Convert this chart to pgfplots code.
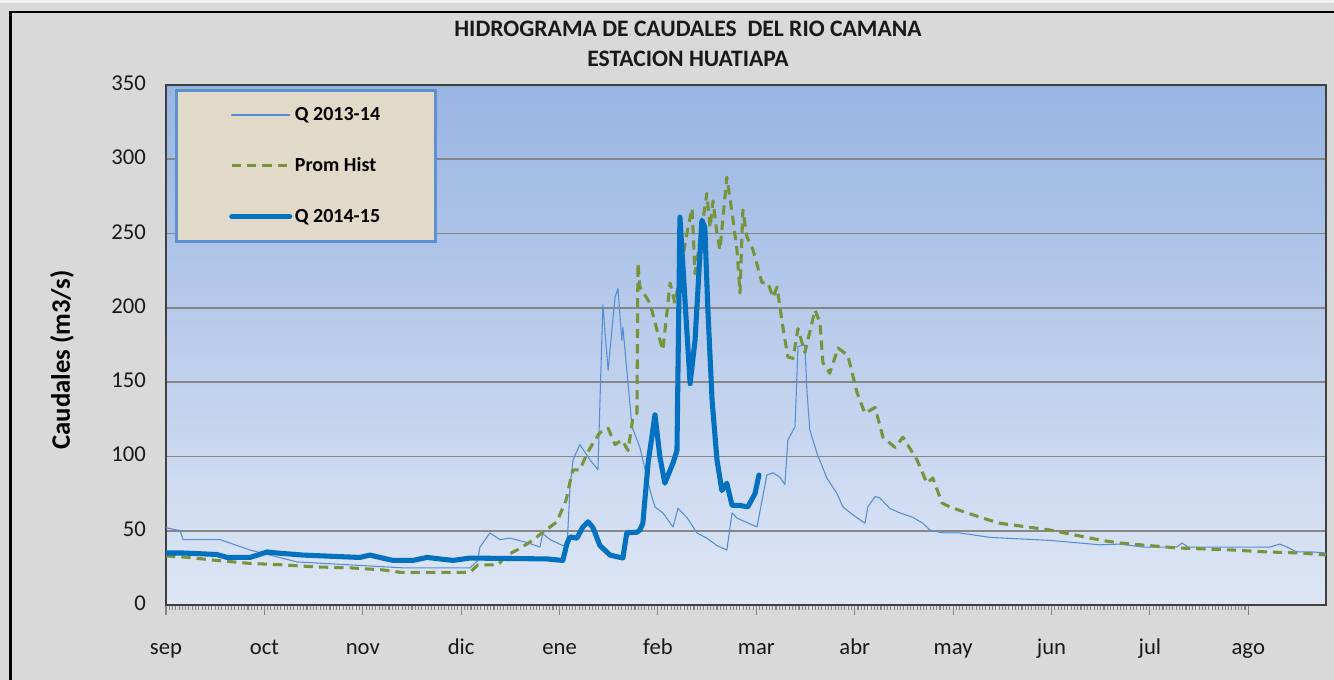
\documentclass[border=0pt]{standalone}
\usepackage{pgfplots}
\pgfplotsset{compat=1.18}
\usepackage{fontspec}
\setmainfont{Carlito}
\definecolor{bgGray}{RGB}{217,217,217}
\definecolor{q13}{RGB}{85,142,213}
\definecolor{prom}{RGB}{119,147,60}
\definecolor{q14}{RGB}{0,112,192}
\definecolor{topblue}{RGB}{152,181,226}
\definecolor{botblue}{RGB}{222,230,245}
\definecolor{legbg}{RGB}{226,218,200}
\definecolor{legborder}{RGB}{95,145,208}
\definecolor{gridgray}{RGB}{134,134,134}

\pgfplotstableread{
d v
0 52
4.3 50
5.2 44
16.5 44
25.6 37
39.9 29
72.3 25
92.7 25
95.1 30
95.7 39
98.8 48.5
101.8 44
104.9 45
110.1 42
114 39
114.9 48
117.1 44
121 40
122.3 40
123.2 80
124.1 97.6
126.2 108
129.3 97.6
131.7 91
133.2 202
134.8 158
136.9 207
137.8 213
139.0 178
139.3 187
142.1 120
144.5 106
147.6 77
149.1 66
151.5 62
154.6 52.5
156.1 65
158.8 59
161.9 48.5
164.9 45
168 40
171 37
172.6 62
174.1 58.5
180.2 52.5
183.2 87.5
185.1 89
187.2 86
188.7 81
189.6 111
191.8 120
192.7 174
194.8 175
195.4 145
196.3 118
198.5 102
201.5 85.5
204.6 75
206.4 66
209.5 60.6
213.1 55
214 66
216.2 73
217.7 72
220.7 65
223.8 62
227.7 59
230.8 55
232.9 50.5
236.9 48.5
242.1 48.5
251.2 45.5
269.5 43.5
284.8 40.5
290.9 41
297.9 39
308.2 39
309.8 41.7
311.6 39
336.6 39
339.6 41
341.8 39
344.8 35.7
349.7 35.7
353.7 35
}\qtrece

\pgfplotstableread{
d v
0 33
5.2 32.3
15.5 30
25.6 28
35.7 27
46 25.6
56.1 25
66.2 23.6
71.3 22
92.7 22
95.1 27
101.2 27
104 33.6
107.9 38
111.9 43.7
114.9 49
117.1 52.5
119.2 56
122 70.7
123.5 86
124.1 91
126.2 91
128.4 102
130.2 109
132.3 116
134.8 119
136.9 108
139 111
140.9 104
142.4 126.5
143.6 129
143.9 230
144.5 214
147.6 203
149.7 185
151.5 171.6
153.7 216.7
155.2 203
158.8 250
160.4 267
161.3 223
162.8 245
164.9 277
165.9 254
166.8 272
168 250
168.9 239
171 288
172.6 264
174.1 239
175 210
175.9 266
177.1 248
179 239
181.7 217
183.5 217
185.1 207
186.3 214
188.1 187
189.6 167
191.2 166
192.7 186
194.8 170
197.9 198.5
199.4 190
200.3 163
202.4 156
204.9 173
207.9 168
210.7 143
213.1 129
216.2 133
218.6 113
222.3 106
224.7 113
229 97.6
232 82
233.8 85.5
236.6 68.7
239 66
244.2 62
251.2 57
254.3 55
269.5 50.5
284.8 43.7
290.9 41.7
308.2 38.4
325.3 37
335.7 35.7
345.7 35
353.7 33.7
}\prom

\pgfplotstableread{
d v
0 35
5.2 35
15.5 34
18.6 32
25.6 32
30.8 35.7
33.8 35
41.8 33.6
59.1 32
62.2 33.6
65.2 32
69.2 30
75.3 30
79.6 32
87.5 30
92.7 31.6
116.2 31
121 30
122.3 41.7
123.2 45.8
125.3 45
127.1 52.5
128.7 56
130.2 52
132.3 40
135.4 33.6
139.3 31.6
140.5 48.5
143.6 49
144.5 50.5
145.4 55
147 95.6
149.1 128
150.6 99.6
152.1 82
154.6 95.6
155.8 104
156.7 261
159.8 149
161.3 178
163.4 259
164.3 254
165.2 200
166.5 138
168 97.6
169.5 77
171 82
172.6 67
175 67
177.4 66
179.6 75
180.8 87.5
}\qcatorce

\begin{document}
\begin{tikzpicture}
\clip (0pt,0pt) rectangle (1000.5pt,510pt);
\fill[bgGray] (0pt,0pt) rectangle (1000.5pt,510pt);
\fill[gray!12] (0pt,507.75pt) rectangle (1000.5pt,510pt);
\draw[black, line width=2pt] (7.875pt,-10pt) -- (7.875pt,501pt) -- (1010pt,501pt);
\node[align=center, font=\fontsize{17.7}{22.5}\selectfont\bfseries, text=black!90]
  at (516pt,477pt) {HIDROGRAMA DE CAUDALES\ \ DEL RIO CAMANA\\ESTACION HUATIAPA};
\node[rotate=90, font=\fontsize{20}{23}\selectfont\bfseries] at (46.5pt,240pt) {Caudales (m3/s)};
\begin{axis}[
  at={(124.5pt,56.25pt)}, anchor=south west,
  scale only axis, width=870pt, height=390pt,
  xmin=0, xmax=353.7, ymin=0, ymax=350,
  xtick={0,30,...,330},
  xticklabels={sep,oct,nov,dic,ene,feb,mar,abr,may,jun,jul,ago},
  minor x tick num=29,
  ytick={0,50,...,350},
  xtick pos=bottom, ytick pos=left,
  tick align=outside,
  major tick length=7.5pt, minor tick length=3.75pt,
  xtick style={draw=gridgray, line width=0.8pt},
  minor tick style={draw=gridgray, line width=0.6pt},
  ytick style={draw=none},
  ymajorgrids,
  major grid style={draw=gridgray, line width=1.2pt},
  axis line style={draw=black!75, line width=1.1pt},
  axis background/.style={top color=topblue, bottom color=botblue},
  tick label style={font=\fontsize{17}{20.4}\selectfont, text=black!90},
  /pgf/number format/assume math mode=true,
  typeset ticklabels with strut,
  xticklabel style={yshift=-12pt},
  yticklabel style={xshift=-4pt},
  every axis plot/.append style={line join=round, line cap=round},
  legend cell align=left,
  legend image code/.code={\draw[#1] (0pt,0pt) -- (43.5pt,0pt);},
  legend style={at={(axis description cs:0.0078,0.993)}, anchor=north west,
    fill=legbg, draw=legborder, line width=2.25pt,
    inner xsep=39.5pt, inner ysep=11pt, row sep=22.5pt,
    font=\fontsize{15}{18}\selectfont\bfseries},
]
\addplot[q13, line width=0.8pt] table[x=d,y=v] {\qtrece};
\addlegendentry{Q 2013-14}
\addplot[prom, line width=2.3pt, dash pattern=on 7pt off 4.5pt, line cap=butt] table[x=d,y=v] {\prom};
\addlegendentry{Prom Hist}
\addplot[q14, line width=3.8pt] table[x=d,y=v] {\qcatorce};
\addlegendentry{Q 2014-15}
\end{axis}
\end{tikzpicture}
\end{document}
